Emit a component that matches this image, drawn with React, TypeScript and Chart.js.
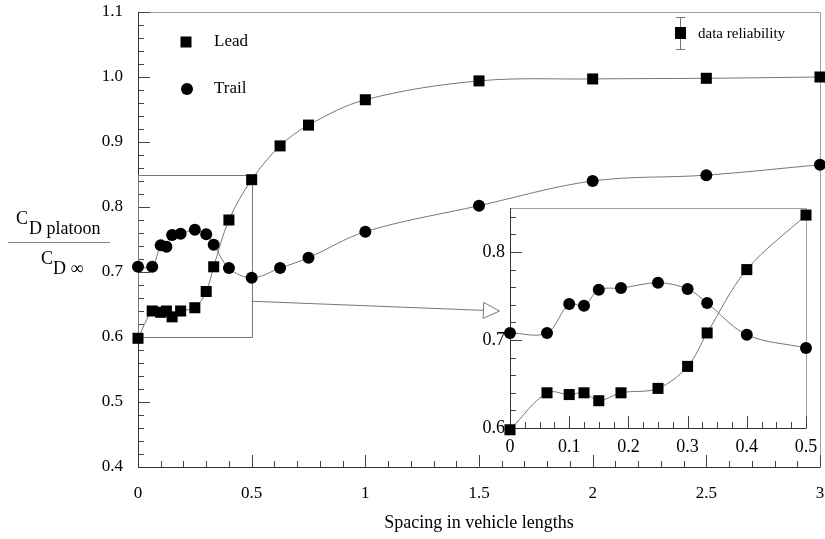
import React, { useEffect, useRef } from "react";
import { Chart, registerables } from "chart.js";
Chart.register(...registerables);

// ---------- data ----------
const spacing = [0, 0.0625, 0.1, 0.125, 0.15, 0.1875, 0.25, 0.3, 0.333, 0.4, 0.5, 0.625, 0.75, 1.0, 1.5, 2.0, 2.5, 3.0];
const leadCd = [0.598, 0.64, 0.638, 0.64, 0.631, 0.64, 0.645, 0.67, 0.708, 0.78, 0.842, 0.894, 0.926, 0.965, 0.994, 0.997, 0.998, 1.0];
const trailCd = [0.708, 0.708, 0.741, 0.739, 0.757, 0.759, 0.765, 0.758, 0.742, 0.706, 0.691, 0.706, 0.722, 0.762, 0.802, 0.84, 0.849, 0.865];
const seriesNames = ["Lead", "Trail"];
const reliabilityLabel = "data reliability";
const xTitle = "Spacing in vehicle lengths";
const mainX = [0, 3];
const mainY = [0.4, 1.1];
const insetX = [0, 0.5];
const insetY = [0.6, 0.85];
const arrowFrom = [0.5, 0.655];
const arrowTo = [1.59, 0.64];

const FONT = '"Liberation Serif", "Times New Roman", serif';

function pts(ys: number[], maxX: number) {
  return spacing.map((x, i) => ({ x, y: ys[i] })).filter((p) => p.x <= maxX + 1e-9);
}

function datasets(maxX: number) {
  const common = {
    borderColor: "#777",
    borderWidth: 1,
    tension: 0.35,
    pointBackgroundColor: "#000",
    pointBorderColor: "#000",
    pointBorderWidth: 0,
    clip: false as any,
  };
  return [
    { ...common, label: seriesNames[0], data: pts(leadCd, maxX), pointStyle: "rect", pointRadius: 7.8 },
    { ...common, label: seriesNames[1], data: pts(trailCd, maxX), pointStyle: "circle", pointRadius: 6 },
  ];
}

function fmt(v: number, d: number) {
  return String(Number(Number(v).toFixed(d)));
}

function framePlugin(cfg: { xMinor: number; xMajor: number; yMinor: number; yMajor: number; fill: boolean }) {
  return {
    id: "frameTicks",
    beforeDatasetsDraw(chart: any) {
      const { ctx, chartArea: a, scales } = chart;
      const xs = scales.x, ys = scales.y;
      ctx.save();
      if (cfg.fill) {
        ctx.fillStyle = "#fff";
        ctx.fillRect(a.left, a.top, a.right - a.left, a.bottom - a.top);
      }
      ctx.lineWidth = 1;
      // top/right light frame
      ctx.strokeStyle = "#a0a0a0";
      ctx.beginPath();
      ctx.moveTo(a.left, a.top + 0.5);
      ctx.lineTo(a.right + 0.5, a.top + 0.5);
      ctx.lineTo(a.right + 0.5, a.bottom);
      ctx.stroke();
      // ticks
      ctx.strokeStyle = "#444";
      const isMajor = (v: number, m: number) => Math.abs(v / m - Math.round(v / m)) < 1e-6;
      const nx = Math.round((xs.max - xs.min) / cfg.xMinor);
      ctx.beginPath();
      for (let i = 0; i <= nx; i++) {
        const v = xs.min + i * cfg.xMinor;
        const px = Math.round(xs.getPixelForValue(v)) + 0.5;
        const len = isMajor(v, cfg.xMajor) ? 12 : 6;
        ctx.moveTo(px, a.bottom);
        ctx.lineTo(px, a.bottom - len);
      }
      const ny = Math.floor((ys.max - ys.min) / cfg.yMinor + 1e-6);
      for (let i = 0; i <= ny; i++) {
        const v = ys.min + i * cfg.yMinor;
        const py = Math.round(ys.getPixelForValue(v)) + 0.5;
        const len = isMajor(v, cfg.yMajor) ? 12 : 6;
        ctx.moveTo(a.left, py);
        ctx.lineTo(a.left + len, py);
      }
      ctx.stroke();
      // axes
      ctx.strokeStyle = "#333";
      ctx.beginPath();
      ctx.moveTo(a.left + 0.5, a.top);
      ctx.lineTo(a.left + 0.5, a.bottom + 0.5);
      ctx.lineTo(a.right + 0.5, a.bottom + 0.5);
      ctx.stroke();
      ctx.restore();
    },
  };
}

const mainDecor = {
  id: "mainDecor",
  beforeDatasetsDraw(chart: any) {
    const { ctx, scales } = chart;
    const xs = scales.x, ys = scales.y;
    ctx.save();
    ctx.strokeStyle = "#777";
    ctx.lineWidth = 1;
    // zoom rectangle
    const l = xs.getPixelForValue(insetX[0]) + 0.5;
    const r = Math.round(xs.getPixelForValue(insetX[1])) + 0.5;
    const t = Math.round(ys.getPixelForValue(insetY[1])) + 0.5;
    const b = Math.round(ys.getPixelForValue(insetY[0])) + 0.5;
    ctx.strokeRect(l, t, r - l, b - t);
    // arrow
    const x0 = xs.getPixelForValue(arrowFrom[0]), y0 = ys.getPixelForValue(arrowFrom[1]);
    const x1 = xs.getPixelForValue(arrowTo[0]), y1 = ys.getPixelForValue(arrowTo[1]);
    const ang = Math.atan2(y1 - y0, x1 - x0);
    const hl = 16, hw = 8;
    const bx = x1 - hl * Math.cos(ang), by = y1 - hl * Math.sin(ang);
    ctx.beginPath();
    ctx.moveTo(x0, y0);
    ctx.lineTo(bx, by);
    ctx.stroke();
    ctx.beginPath();
    ctx.moveTo(x1, y1);
    ctx.lineTo(bx + hw * Math.sin(ang), by - hw * Math.cos(ang));
    ctx.lineTo(bx - hw * Math.sin(ang), by + hw * Math.cos(ang));
    ctx.closePath();
    ctx.fillStyle = "#fff";
    ctx.fill();
    ctx.stroke();
    ctx.restore();
  },
  afterDraw(chart: any) {
    const { ctx, chartArea: a } = chart;
    ctx.save();
    ctx.fillStyle = "#000";
    ctx.textBaseline = "middle";
    ctx.textAlign = "left";
    // legend
    ctx.font = `17px ${FONT}`;
    ctx.fillRect(a.left + 48 - 5.5, a.top + 30 - 5.5, 11, 11);
    ctx.fillText(seriesNames[0], a.left + 76, a.top + 30);
    ctx.beginPath();
    ctx.arc(a.left + 49, a.top + 77, 6, 0, Math.PI * 2);
    ctx.fill();
    ctx.fillText(seriesNames[1], a.left + 76, a.top + 77);
    // data reliability
    const ex = 680, ey = 33;
    ctx.strokeStyle = "#777";
    ctx.lineWidth = 1;
    ctx.beginPath();
    ctx.moveTo(ex + 0.5, ey - 16);
    ctx.lineTo(ex + 0.5, ey + 16);
    ctx.moveTo(ex - 4, ey - 16 + 0.5);
    ctx.lineTo(ex + 5, ey - 16 + 0.5);
    ctx.moveTo(ex - 4, ey + 16 + 0.5);
    ctx.lineTo(ex + 5, ey + 16 + 0.5);
    ctx.stroke();
    ctx.fillRect(ex - 5, ey - 6, 11, 12);
    ctx.font = `15px ${FONT}`;
    ctx.fillText(reliabilityLabel, 698, ey + 1);
    // x title
    ctx.textAlign = "center";
    ctx.font = `18px ${FONT}`;
    ctx.fillText(xTitle, (a.left + a.right) / 2, 523);
    // y title (fraction)
    ctx.textAlign = "left";
    ctx.textBaseline = "alphabetic";
    ctx.font = `18px ${FONT}`;
    ctx.fillText("C", 16, 224);
    ctx.fillText("D platoon", 29, 234);
    ctx.fillText("C", 41, 264);
    ctx.fillText("D \u221e", 53, 274);
    ctx.strokeStyle = "#888";
    ctx.beginPath();
    ctx.moveTo(8, 242.5);
    ctx.lineTo(110, 242.5);
    ctx.stroke();
    ctx.restore();
  },
};

function scaleOpts(range: number[], step: number, dec: number, pad: number, size: number, fit: (s: any) => void) {
  return {
    type: "linear" as const,
    min: range[0],
    max: range[1],
    grid: { display: false, drawTicks: false },
    border: { display: false },
    afterFit: (s: any) => {
      fit(s);
      s.paddingTop = 0;
      s.paddingBottom = 0;
      s.paddingLeft = 0;
      s.paddingRight = 0;
    },
    ticks: {
      stepSize: step,
      includeBounds: false,
      padding: pad,
      color: "#000",
      font: { family: FONT, size },
      callback: (v: any) => (dec === 1 ? Number(v).toFixed(1) : fmt(v, 2)),
    },
  };
}

export default function App() {
  const mainRef = useRef<HTMLCanvasElement>(null);
  const insetRef = useRef<HTMLCanvasElement>(null);

  useEffect(() => {
    const main = new Chart(mainRef.current!, {
      type: "line",
      data: { datasets: datasets(3) as any },
      options: {
        responsive: false,
        animation: false,
        devicePixelRatio: 1,
        layout: { padding: { left: 0, top: 12, right: 5, bottom: 0 }, autoPadding: false } as any,
        plugins: { legend: { display: false }, tooltip: { enabled: false } },
        scales: {
          x: scaleOpts(mainX, 0.5, 2, 16, 17, (s: any) => { s.height = 72; }) as any,
          y: scaleOpts(mainY, 0.1, 1, 15, 17, (s: any) => { s.width = 138; }) as any,
        },
      },
      plugins: [framePlugin({ xMinor: 0.1, xMajor: 0.5, yMinor: 0.02, yMajor: 0.1, fill: false }), mainDecor],
    });
    const inset = new Chart(insetRef.current!, {
      type: "line",
      data: { datasets: datasets(0.5) as any },
      options: {
        responsive: false,
        animation: false,
        devicePixelRatio: 1,
        layout: { padding: { left: 0, top: 13, right: 14, bottom: 0 }, autoPadding: false } as any,
        plugins: { legend: { display: false }, tooltip: { enabled: false } },
        scales: {
          x: scaleOpts(insetX, 0.1, 2, 8, 18, (s: any) => { s.height = 32; }) as any,
          y: scaleOpts(insetY, 0.1, 1, 5, 18, (s: any) => { s.width = 50; }) as any,
        },
      },
      plugins: [framePlugin({ xMinor: 0.025, xMajor: 0.1, yMinor: 0.02, yMajor: 0.1, fill: true })],
    });
    return () => {
      main.destroy();
      inset.destroy();
    };
  }, []);

  return (
    <div style={{ position: "fixed", left: 0, top: 0, width: 825, height: 539, background: "#fff" }}>
      <canvas ref={mainRef} width={825} height={539} style={{ position: "absolute", left: 0, top: 0 }} />
      <canvas ref={insetRef} width={360} height={265} style={{ position: "absolute", left: 460, top: 195 }} />
    </div>
  );
}
